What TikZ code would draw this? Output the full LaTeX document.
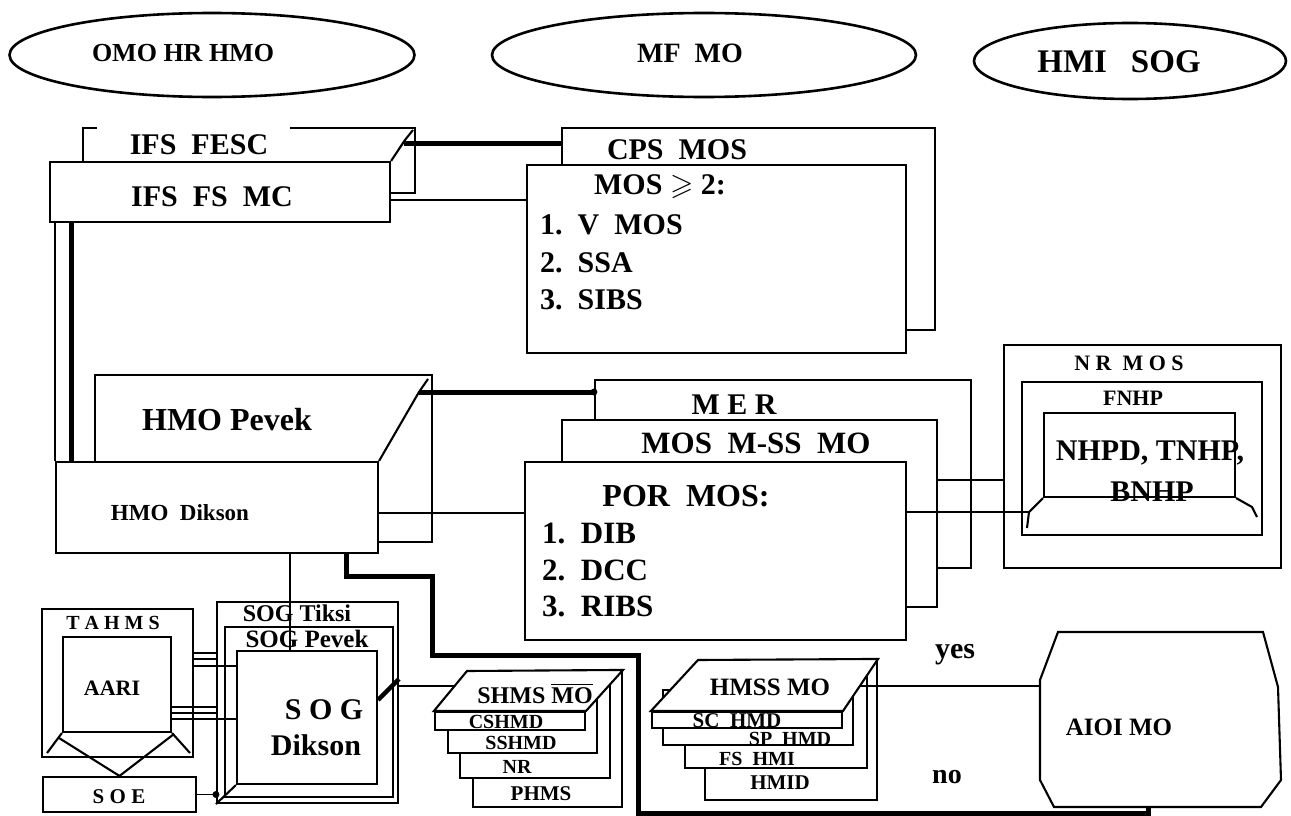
\documentclass[tikz,border=0pt]{standalone}
\usepackage{amsmath, amssymb}
\usepackage{fontspec}
\setmainfont{Liberation Serif}
\usetikzlibrary{shapes.geometric, fit, calc}

\tikzset{
    box/.style={draw, fill=white, line width=2.1pt, inner sep=0pt},
    oval/.style={draw, ellipse, line width=2.6pt, inner sep=0pt},
    edge/.style={line width=2.1pt},
    link/.style={line width=1.7pt},
    heavy/.style={line width=5pt},
    lbl/.style={inner sep=0pt, font=\bfseries\fontsize{#1}{#1}\selectfont},
    lbl/.default=30,
}

\begin{document}
\begin{tikzpicture}[x=1pt, y=-1pt]
    \path[use as bounding box, fill=white] (0,0) rectangle (1291,816);

    % 1. The three ovals on top
    \node[oval, minimum width=405pt, minimum height=84pt] (omo) at (212,55) {};
    \node[oval, minimum width=424pt, minimum height=84pt] (mfmo) at (704,55) {};
    \node[oval, minimum width=312pt, minimum height=76pt] (hmisog) at (1130,61) {};

    % 2. IFS boxes (back one only partly drawn)
    \node[fit={(83,128) (415,193)}, inner sep=0pt] (fesc) {};
    \draw[edge] ([xshift=14pt]fesc.north west) -- (fesc.north west) -- (fesc.south west);
    \draw[edge] ([xshift=-125pt]fesc.north east) -- (fesc.north east) -- (fesc.south east) -- ++(-25,0);
    \node[box, fit={(50,162) (390,222)}] (ifsfs) {};
    \draw[edge] (ifsfs.north east) -- (405,140) -- (413,130);
    \coordinate (fesck) at (404,143);

    % 3. CPS MOS pair
    \node[box, fit={(562,128) (935,330)}] (cps) {};
    \node[box, fit={(527,165) (906,353)}] (mos) {};

    % 4. HMO pair
    \node[box, fit={(95,375) (432,542)}] (pevek) {};
    \node[box, fit={(56,462) (378,553)}] (dikson) {};
    \draw[edge] (dikson.north east) -- (419,392) -- (428,379);
    \coordinate (pevekk) at (419,392);

    % 5. MER / MOS M-SS MO / POR MOS stack
    \node[box, fit={(595,380) (971,568)}] (mer) {};
    \node[box, fit={(562,420) (937,607)}] (mss) {};
    \node[box, fit={(525,462) (906,640)}] (por) {};

    % 6. NR MOS
    \node[box, fit={(1004,345) (1281,568)}] (nrmos) {};
    \node[box, fit={(1022,382) (1262,535)}] (fnhp) {};
    \node[box, fit={(1044,413) (1235,497)}] (nhpd) {};
    \draw[edge] (nhpd.south west) -- (1029,512) -- (1027,528);
    \draw[edge] (nhpd.south east) -- (1252,507) -- (1257,517);
    \coordinate (nhpdbase) at (1029,512);

    % 7. TAHMS with AARI and SOE
    \node[box, fit={(42,609) (193,757)}] (tahms) {};
    \node[box, fit={(63,637) (171,732)}] (aari) {};
    \node[box, fit={(43,777) (196,812)}] (soe) {};
    \draw[edge] (aari.south west) -- (47,753);
    \draw[edge] (aari.south east) -- (190,753);
    \draw[edge] (59,738) -- (soe.north) -- (174,734);

    % 8. SOG boxes, one inside the other
    \node[box, fit={(217,602) (398,803)}] (tiksi) {};
    \node[box, fit={(225,627) (393,797)}] (sogpevek) {};
    \node[box, fit={(237,651) (377,784)}] (sogdikson) {};
    \draw[edge] (sogdikson.south west) -- (tiksi.south west);

    % 9. SHMS stack
    \node[box, fit={(473,671) (622,807)}] (phms) {};
    \node[box, fit={(460,685) (610,778)}] (nrbox) {};
    \node[box, fit={(448,698) (597,753)}] (sshmd) {};
    \node[box, fit={(435,712) (585,730)}] (cshmd) {};
    \draw[edge, fill=white] (cshmd.north west) -- (467,671) -- (phms.north east) -- (cshmd.north east) -- cycle;
    \coordinate (shmsin) at (455,686);

    % 10. HMSS stack
    \node[box, fit={(705,660) (877,800)}] (hmid) {};
    \node[box, fit={(685,675) (867,768)}] (fshmi) {};
    \node[box, fit={(663,690) (853,745)}] (sphmd) {};
    \node[box, fit={(652,712) (842,728)}] (schmd) {};
    \draw[edge, fill=white] (schmd.north west) -- (698,660) -- (hmid.north east) -- (schmd.north east) -- cycle;
    \coordinate (hmssout) at (860,686);

    % 11. AIOI MO
    \node[fit={(1040,632) (1281,807)}, inner sep=0pt] (aioi) {};
    \draw[edge] (1058,632) -- (1263,632) -- (1278,687) -- (1281,780) -- (1261,807)
        -- (1054,807) -- (1040,780) -- (1040,680) -- cycle;

    % 12. Connectors
    \draw[heavy] (fesck) -- (cps.west |- fesck);
    \draw[link] (ifsfs.east |- 0,200) -- (mos.west |- 0,200);
    \draw[link] (dikson.north west) -- (dikson.north west |- ifsfs.south);
    \draw[heavy] ($(dikson.north west)+(17,0)$) -- ($(dikson.north west |- ifsfs.south)+(17,0)$);
    \draw[heavy] (pevekk) -- (mer.west |- pevekk);
    \fill (mer.west |- pevekk) circle (3.5pt);
    \draw[link] (dikson.east |- 0,513) -- (por.west |- 0,513);
    \draw[link] (por.east |- nhpdbase) -- (nhpdbase);
    \draw[link] (mss.east |- 0,480) -- (nrmos.west |- 0,480);
    \draw[link] (dikson.south -| 290,0) -- (sogdikson.north -| 290,0);
    \draw[
        heavy,
        line join=miter
    ] (dikson.south -| 346,0) -- (346,576) -- (432,576) -- (432,655) -- (638,655)
        -- (638,813) -- (1148,813) -- (aioi.south -| 1148,0);
    \foreach \yy in {653,659} \draw[link] (tahms.east |- 0,\yy) -- (tiksi.west |- 0,\yy);
    \draw[link] (tahms.east |- 0,666) -- (sogdikson.west |- 0,666);
    \foreach \yy in {707,713} \draw[link] (aari.east |- 0,\yy) -- (tiksi.west |- 0,\yy);
    \draw[link] (aari.east |- 0,719) -- (sogdikson.west |- 0,719);
    \draw[link] (soe.east) -- (soe.east -| tiksi.west);
    \fill (soe.east -| tiksi.west) circle (3.5pt);
    \draw[heavy, line width=4.5pt] (sogdikson.east |- 0,700) -- (399,679);
    \draw[link] (399,686) -- (shmsin);
    \draw[link] (hmssout) -- (aioi.west |- hmssout);

    % 13. Labels
    \node[lbl=26] (tomo) at (183,53) {OMO HR HMO};
    \node[lbl=28] (tmfmo) at (690,53) {MF~~MO};
    \node[lbl=33] (thmisog) at (1119,62) {HMI\hspace{24pt}SOG};
    \node[lbl] (tfesc) at (199,145) {IFS~~FESC};
    \node[lbl] (tifsfs) at (212,197) {IFS~~FS~~MC};
    \node[lbl] (tcps) at (677,150) {CPS~~MOS};
    \node[lbl] (tmos) at (660,187) {MOS $\geqslant$ 2:};
    \node[lbl, anchor=west] (tmos1) at (540,225) {1.~~V~~MOS};
    \node[lbl, anchor=west] (tmos2) at (540,263) {2.~~SSA};
    \node[lbl, anchor=west] (tmos3) at (540,300) {3.~~SIBS};
    \node[lbl=32] (tpevek) at (227,420) {HMO Pevek};
    \node[lbl=23] (tdikson) at (180,513) {HMO~~Dikson};
    \node[lbl] (tmer) at (734,405) {M~E~R};
    \node[lbl=31] (tmss) at (756,443) {MOS~~M-SS~~MO};
    \node[lbl=32] (tpor) at (686,496) {POR~~MOS:};
    \node[lbl=31, anchor=west] (tpor1) at (542,533) {1.~~DIB};
    \node[lbl=31, anchor=west] (tpor2) at (542,570) {2.~~DCC};
    \node[lbl=31, anchor=west] (tpor3) at (542,606) {3.~~RIBS};
    \node[lbl=22] (tnrmos) at (1129,363) {N R~~M O S};
    \node[lbl=22] (tfnhp) at (1133,398) {FNHP};
    \node[lbl] (tnhpd) at (1150,453) {NHPD, TNHP,};
    \node[lbl] (tbnhp) at (1152,492) {BNHP};
    \node[lbl=20] (ttahms) at (113,623) {T A H M S};
    \node[lbl=22] (taari) at (112,688) {AARI};
    \node[lbl=21] (tsoe) at (119,797) {S O E};
    \node[lbl=24] (ttiksi) at (297,613) {SOG Tiksi};
    \node[lbl=25] (tsogpevek) at (307,639) {SOG Pevek};
    \node[lbl] (tsog) at (324,710) {S O G};
    \node[lbl] (tsogdikson) at (316,745) {Dikson};
    \node[lbl=24] (tshms) at (535,693) {SHMS $\overline{\hbox{MO}}$};
    \node[lbl=20] (tcshmd) at (506,722) {CSHMD};
    \node[lbl=20] (tsshmd) at (521,743) {SSHMD};
    \node[lbl=20] (tnr) at (517,767) {NR};
    \node[lbl=21] (tphms) at (541,794) {PHMS};
    \node[lbl=25] (thmss) at (770,687) {HMSS~MO};
    \node[lbl=21] (tschmd) at (737,721) {SC~~HMD};
    \node[lbl=20] (tsphmd) at (790,739) {SP~~HMD};
    \node[lbl=20] (tfshmi) at (757,759) {FS~~HMI};
    \node[lbl=21] (thmid) at (780,783) {HMID};
    \node[lbl=30] (tyes) at (955,655) {yes};
    \node[lbl=28] (tno) at (947,777) {no};
    \node[lbl=25] (taioi) at (1119,727) {AIOI MO};

\end{tikzpicture}
\end{document}
